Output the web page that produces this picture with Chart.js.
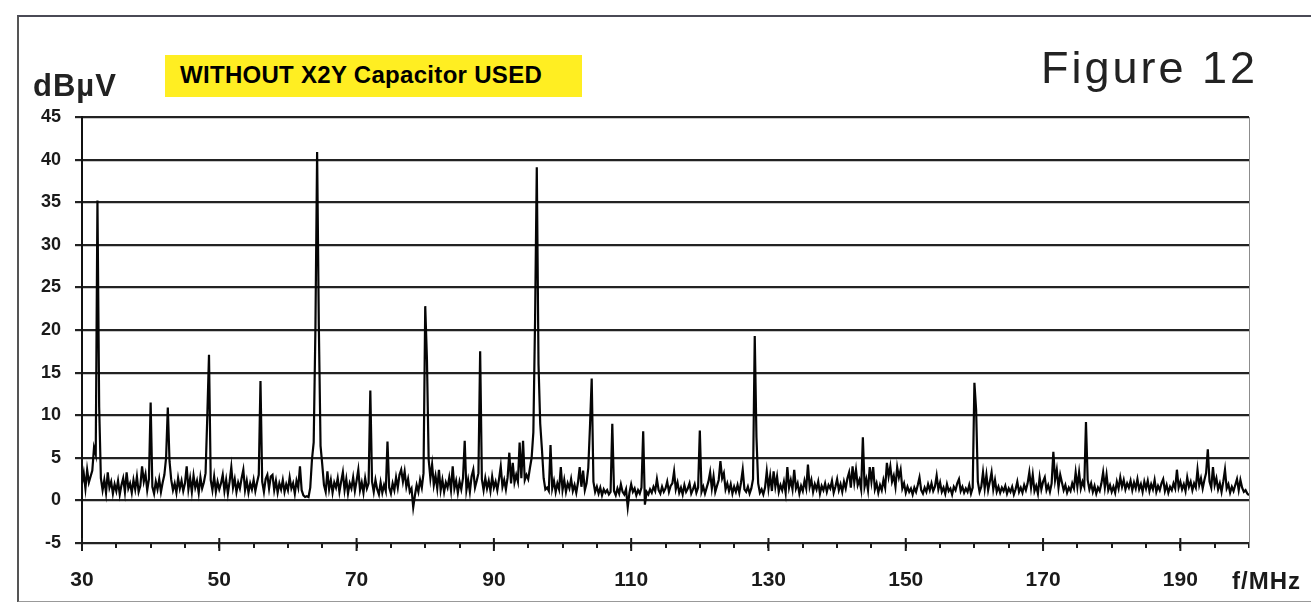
<!DOCTYPE html>
<html>
<head>
<meta charset="utf-8">
<title>Figure 12</title>
<script src="https://cdn.jsdelivr.net/npm/chart.js@4.4.1/dist/chart.umd.min.js"></script>
<style>
  body { margin: 0; background: #fff; }
  #wrap { position: relative; width: 1311px; height: 602px; overflow: hidden; background: #fff;
          font-family: "Liberation Sans", Arial, sans-serif; }
  #chart { position: absolute; left: 0; top: 0; }
  .frame { position: absolute; left: 17px; top: 15px; width: 1400px; height: 584px;
           border-top: 2px solid #4a4a55; border-left: 2px solid #555; border-bottom: 2px solid #999; }
  .unit { position: absolute; left: 33px; top: 70px; font-size: 31px; line-height: 31px;
          font-weight: bold; letter-spacing: 1px; color: #222; }
  .note { position: absolute; left: 165px; top: 55px; width: 417px; height: 42px; background: #ffee22; }
  .note span { position: absolute; left: 15px; top: 8px; font-size: 24px; line-height: 24px;
               font-weight: bold; color: #000; white-space: nowrap; letter-spacing: 0.3px; }
  .fig { position: absolute; left: 1041px; top: 45px; font-size: 45px; line-height: 45px;
         letter-spacing: 3px; color: #222; white-space: nowrap; }
  .xunit { position: absolute; left: 1232px; top: 569px; font-size: 24px; line-height: 24px;
           font-weight: bold; letter-spacing: 1px; color: #1a1a1a; white-space: nowrap; }
</style>
</head>
<body>
<div id="wrap">
  <div class="frame"></div>
  <canvas id="chart" width="1311" height="602"></canvas>
  <div class="unit">dBµV</div>
  <div class="note"><span>WITHOUT X2Y Capacitor USED</span></div>
  <div class="fig">Figure 12</div>
  <div class="xunit">f/MHz</div>
</div>
<script>
// sweep: 30 MHz to 200 MHz, one reading every 0.25 MHz
var freqStart = 30;
var freqStep = 0.25;

// measured level in dBuV, 20 readings (5 MHz) per row
var levels = [
  2.0, 3.2, 1.4, 3.6, 2.1, 2.8, 3.5, 6.2, 5.4, 35.2, 11.0, 2.6, 1.2, 2.4, 0.9, 3.3, 1.5, 2.2, 0.8, 1.9,   // 30
  1.1, 2.3, 0.7, 1.8, 2.6, 1.0, 3.3, 1.4, 2.0, 0.9, 2.4, 1.3, 2.8, 1.0, 1.7, 4.0, 2.2, 3.1, 1.2, 2.5,     // 35
  11.5, 1.6, 0.8, 2.2, 1.3, 2.5, 1.0, 2.1, 3.0, 5.0, 10.9, 4.6, 2.4, 1.2, 2.0, 0.9, 2.6, 1.4, 2.3, 1.1,   // 40
  2.0, 4.0, 1.3, 2.6, 1.0, 2.9, 1.5, 2.3, 0.9, 2.7, 1.4, 2.1, 3.2, 9.8, 17.1, 2.4, 1.2, 2.8, 1.0, 2.2,    // 45
  1.3, 2.0, 3.0, 1.1, 2.4, 0.8, 2.2, 3.9, 1.5, 2.5, 1.0, 2.1, 1.4, 2.6, 3.6, 1.2, 2.3, 0.9, 2.0, 1.3,     // 50
  2.4, 1.1, 2.1, 3.0, 14.0, 2.2, 1.0, 2.5, 3.0, 1.4, 2.8, 3.0, 1.2, 2.3, 0.9, 2.0, 1.3, 2.4, 1.0, 1.9,    // 55
  1.2, 2.7, 1.4, 2.0, 0.8, 2.3, 1.5, 4.0, 1.2, 0.6, 0.4, 0.5, 0.4, 1.5, 4.8, 6.8, 20.0, 40.9, 20.5, 6.4,  // 60
  4.2, 1.8, 1.0, 3.4, 1.3, 2.4, 0.9, 2.1, 1.5, 2.6, 1.0, 2.2, 3.3, 1.2, 2.5, 0.8, 2.0, 1.4, 2.7, 1.1,     // 65
  2.3, 3.6, 1.2, 2.1, 0.9, 2.6, 1.4, 2.0, 12.9, 2.2, 1.0, 2.4, 1.3, 0.7, 2.1, 0.9, 1.8, 1.1, 6.9, 1.5,    // 70
  0.8, 2.0, 1.2, 2.7, 1.5, 3.0, 3.6, 2.2, 3.4, 1.6, 2.5, 1.0, 1.4, -0.8, 0.6, 1.8, 1.0, 2.4, 1.5, 3.2,    // 75
  22.8, 16.5, 4.8, 2.6, 4.2, 1.8, 2.9, 1.4, 3.6, 1.2, 2.4, 1.0, 2.1, 1.5, 2.7, 1.2, 4.0, 1.4, 2.3, 0.9,   // 80
  2.2, 1.3, 2.6, 7.0, 1.2, 2.4, 1.0, 2.8, 3.6, 1.5, 2.3, 3.2, 17.5, 2.5, 1.2, 2.6, 1.4, 2.3, 1.1, 2.8,    // 85
  1.5, 2.2, 1.2, 2.5, 4.0, 1.6, 2.4, 1.3, 2.7, 5.6, 2.0, 4.4, 2.1, 3.0, 2.2, 6.8, 2.6, 7.0, 2.4, 3.0,     // 90
  2.5, 3.8, 5.0, 8.0, 21.2, 39.1, 16.0, 9.0, 6.0, 2.6, 1.3, 1.5, 1.1, 6.5, 1.4, 2.3, 1.0, 2.0, 1.3, 3.9,  // 95
  1.2, 2.4, 1.0, 2.0, 1.4, 2.5, 1.1, 1.8, 0.9, 2.1, 3.9, 1.6, 3.5, 1.2, 2.0, 3.8, 8.7, 14.3, 2.2, 1.0,    // 100
  1.6, 0.8, 1.5, 0.6, 1.3, 0.9, 1.2, 0.7, 1.0, 9.0, 1.1, 0.6, 1.4, 0.8, 1.9, 1.0, 0.7, 1.3, -0.8, 0.9,    // 105
  1.9, 1.0, 1.4, 0.6, 1.2, 0.8, 1.5, 8.1, -0.5, 1.0, 0.7, 1.3, 0.9, 1.6, 1.1, 2.5, 1.2, 0.8, 1.6, 1.0,    // 110
  1.4, 2.2, 1.0, 1.7, 2.0, 3.4, 1.3, 2.1, 0.9, 1.5, 0.7, 1.8, 1.0, 1.4, 2.0, 0.8, 1.3, 1.9, 0.9, 1.5,     // 115
  8.2, 1.0, 1.6, 0.8, 1.5, 2.2, 3.3, 1.4, 2.8, 1.0, 1.7, 2.4, 4.6, 2.6, 3.2, 1.3, 2.0, 1.1, 1.9, 0.8,     // 120
  1.6, 1.0, 1.8, 0.9, 2.1, 3.6, 1.3, 1.0, 1.6, 0.8, 1.4, 2.5, 19.3, 7.4, 2.0, 0.9, 1.3, 0.7, 1.5, 3.4,    // 125
  1.4, 2.9, 1.1, 3.4, 1.6, 2.8, 1.0, 1.8, 1.2, 2.2, 0.9, 3.9, 1.5, 2.4, 1.3, 3.6, 1.4, 2.0, 0.8, 1.7,     // 130
  1.1, 2.3, 1.4, 4.2, 1.6, 2.4, 1.0, 1.9, 1.3, 2.2, 0.8, 1.7, 1.2, 2.0, 1.0, 1.8, 1.4, 2.3, 0.9, 1.6,     // 135
  2.5, 1.2, 1.9, 1.0, 2.2, 1.4, 2.6, 3.3, 1.5, 4.0, 2.1, 3.6, 1.8, 2.4, 1.3, 7.4, 1.6, 2.5, 1.2, 3.9,     // 140
  2.2, 3.9, 1.3, 2.0, 0.9, 1.8, 1.2, 2.4, 1.5, 4.4, 2.8, 4.0, 2.2, 2.9, 1.6, 3.9, 2.7, 3.6, 1.4, 2.0,     // 145
  0.9, 1.6, 1.0, 1.4, 0.7, 1.5, 1.0, 1.8, 2.7, 1.2, 0.8, 1.5, 1.0, 1.9, 1.2, 2.0, 1.1, 1.6, 2.9, 1.3,     // 150
  2.1, 1.0, 1.5, 0.8, 1.9, 1.1, 1.4, 0.7, 1.6, 1.2, 2.0, 2.5, 1.1, 1.6, 0.9, 1.4, 1.0, 1.8, 0.8, 1.5,     // 155
  13.8, 10.6, 2.2, 1.0, 1.6, 3.3, 1.4, 3.0, 1.2, 2.2, 3.3, 1.3, 2.4, 1.0, 1.6, 0.9, 1.5, 1.1, 1.7, 0.8,   // 160
  1.4, 1.0, 1.6, 0.7, 1.3, 2.2, 1.0, 1.5, 0.9, 1.8, 1.2, 2.0, 3.3, 1.5, 3.0, 1.1, 1.7, 0.8, 2.7, 1.3,     // 165
  2.2, 2.7, 1.2, 1.8, 1.0, 2.0, 5.7, 2.4, 3.6, 1.5, 3.0, 2.1, 1.2, 1.8, 0.9, 1.5, 1.1, 2.0, 1.4, 3.3,     // 170
  1.6, 3.3, 1.4, 2.2, 1.6, 9.2, 2.4, 1.3, 2.0, 1.0, 1.7, 0.8, 1.5, 1.1, 2.0, 3.3, 1.5, 3.0, 1.2, 1.8,     // 175
  1.0, 1.6, 0.9, 2.2, 1.4, 2.7, 1.6, 2.4, 1.3, 2.0, 1.5, 2.3, 1.2, 2.1, 1.4, 2.5, 1.3, 1.9, 1.0, 2.2,     // 180
  1.4, 2.3, 1.1, 1.9, 1.3, 2.4, 1.0, 1.7, 1.2, 2.0, 2.5, 1.1, 1.8, 0.9, 1.6, 1.2, 2.0, 1.4, 3.6, 1.5,     // 185
  2.2, 1.3, 1.9, 1.1, 2.7, 1.6, 2.2, 1.2, 2.0, 1.5, 3.6, 1.8, 2.6, 1.4, 2.4, 3.2, 6.0, 2.2, 1.5, 3.9,     // 190
  1.8, 2.6, 1.3, 2.0, 1.0, 2.2, 3.6, 1.4, 1.9, 0.9, 1.6, 1.1, 1.8, 2.5, 1.2, 2.4, 1.5, 1.0, 1.2, 0.8,     // 195
  0.6                                                                                                     // 200
];

// axis ranges and labelled ticks
var xMin = 30, xMax = 200, xStep = 5;
var xLabelTicks = [30, 50, 70, 90, 110, 130, 150, 170, 190];
var yMin = -5, yMax = 45, yStep = 5;

var points = levels.map(function(v, i){
  return { x: freqStart + i * freqStep, y: v };
});

var labelFont = { family: '"Liberation Sans", Arial, sans-serif', size: 21, weight: 'bold' };

// right border, long major ticks and the axis line running past the bottom
var plotFrame = {
  id: 'plotFrame',
  afterDraw: function(chart){
    var ctx = chart.ctx;
    var a = chart.chartArea;
    var x = chart.scales.x;
    ctx.save();
    ctx.strokeStyle = '#8c8c8c';
    ctx.lineWidth = 1;
    ctx.beginPath();
    ctx.moveTo(a.right + 0.5, a.top);
    ctx.lineTo(a.right + 0.5, a.bottom + 5);
    ctx.stroke();
    ctx.strokeStyle = '#1a1a1a';
    ctx.lineWidth = 2;
    xLabelTicks.forEach(function(v){
      var px = x.getPixelForValue(v);
      ctx.beginPath();
      ctx.moveTo(px, a.bottom - 5);
      ctx.lineTo(px, a.bottom + 8);
      ctx.stroke();
    });
    ctx.beginPath();
    ctx.moveTo(a.left, a.bottom);
    ctx.lineTo(a.left, a.bottom + 6);
    ctx.stroke();
    ctx.restore();
  }
};

var ctx = document.getElementById('chart');
var spectrum = new Chart(ctx, {
  type: 'line',
  data: {
    datasets: [{
      label: 'level',
      data: points,
      borderColor: '#050505',
      borderWidth: 2.2,
      pointRadius: 0,
      tension: 0,
      fill: false
    }]
  },
  options: {
    responsive: false,
    animation: false,
    layout: { padding: { left: 0, right: 62, top: 117, bottom: 0 } },
    plugins: {
      legend: { display: false },
      tooltip: { enabled: false }
    },
    scales: {
      x: {
        type: 'linear',
        min: xMin,
        max: xMax,
        afterFit: function(scale){ scale.height = 59; },
        grid: { display: true, drawOnChartArea: false, tickLength: 5, color: '#1a1a1a', lineWidth: 2 },
        border: { display: true, color: '#222', width: 2 },
        ticks: {
          stepSize: xStep,
          autoSkip: false,
          maxRotation: 0,
          padding: 20,
          color: '#1a1a1a',
          font: labelFont,
          callback: function(v){ return xLabelTicks.indexOf(v) >= 0 ? String(v) : ''; }
        }
      },
      y: {
        min: yMin,
        max: yMax,
        afterFit: function(scale){ scale.width = 82; },
        grid: { color: '#222', lineWidth: 2.2, tickLength: 7 },
        border: { display: true, color: '#111', width: 2 },
        ticks: {
          stepSize: yStep,
          autoSkip: false,
          padding: 14,
          color: '#1a1a1a',
          font: { family: '"Liberation Sans", Arial, sans-serif', size: 18, weight: 'bold' }
        }
      }
    }
  },
  plugins: [plotFrame]
});
</script>
</body>
</html>
